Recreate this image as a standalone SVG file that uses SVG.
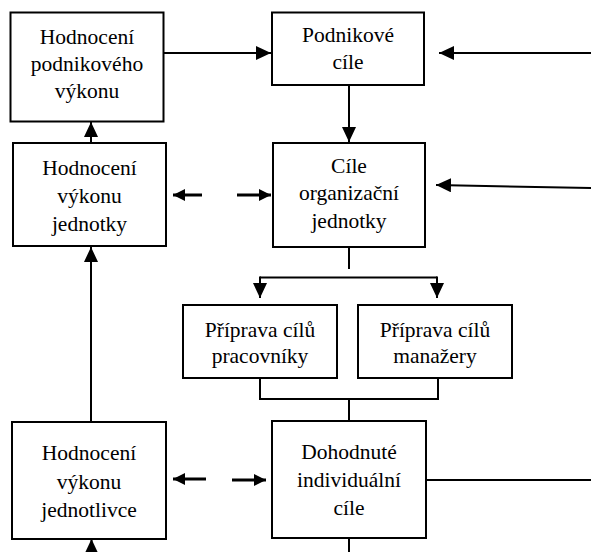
<svg xmlns="http://www.w3.org/2000/svg" width="591" height="552" viewBox="0 0 591 552">
  <defs>
    <style>
      .box { fill: #ffffff; stroke: #000000; stroke-width: 2; }
      .t { font-family: "Liberation Serif", "Times New Roman", serif; font-size: 21.5px; fill: #000000; text-anchor: middle; }
      .ln { fill: none; stroke: #000000; stroke-width: 2; }
      .sa { fill: none; stroke: #000000; stroke-width: 2; marker-end: url(#ah); }
      .da { fill: none; stroke: #000000; stroke-width: 3; marker-end: url(#ahs); }
    </style>
    <marker id="ah" markerUnits="userSpaceOnUse" markerWidth="15" markerHeight="14" refX="15" refY="7" orient="auto">
      <path d="M0,0 L15,7 L0,14 Z" fill="#000000"/>
    </marker>
    <marker id="ahs" markerUnits="userSpaceOnUse" markerWidth="12" markerHeight="12" refX="12" refY="6" orient="auto">
      <path d="M0,0 L12,6 L0,12 Z" fill="#000000"/>
    </marker>
  </defs>
  <rect width="591" height="552" fill="#ffffff"/>

  <g id="connectors">
    <line class="sa" x1="163" y1="53" x2="271" y2="53"/>
    <line class="sa" x1="591" y1="53" x2="439" y2="53"/>
    <line class="sa" x1="349" y1="85" x2="349" y2="142"/>
    <line class="sa" x1="591" y1="188" x2="436" y2="185"/>
    <line class="sa" x1="91" y1="143" x2="91" y2="122"/>
    <line class="sa" x1="91" y1="422" x2="91" y2="247"/>
    <line class="da" x1="202" y1="195" x2="173" y2="195"/>
    <line class="da" x1="237" y1="195" x2="271" y2="195"/>
    <line class="da" x1="206" y1="479" x2="173" y2="479"/>
    <line class="da" x1="232" y1="480" x2="266" y2="480"/>
    <line class="ln" x1="349" y1="247" x2="349" y2="269"/>
    <polyline class="ln" points="260,277.5 437,277.5"/>
    <line class="sa" x1="260" y1="276.5" x2="260" y2="298"/>
    <line class="sa" x1="437" y1="276.5" x2="437" y2="298"/>
    <polyline class="ln" points="260,378 260,399 438,399 438,378"/>
    <line class="ln" x1="349" y1="399" x2="349" y2="421"/>
    <line class="ln" x1="426" y1="480" x2="591" y2="480"/>
    <line class="ln" x1="349" y1="538" x2="349" y2="552"/>
    <line class="sa" x1="91.5" y1="552" x2="91.5" y2="539"/>
  </g>

  <g id="hodnoceni-podnikoveho">
    <rect class="box" x="10.5" y="12.5" width="153" height="109"/>
    <text class="t" x="87" y="44">Hodnocení</text>
    <text class="t" x="87" y="71">podnikového</text>
    <text class="t" x="87" y="98">výkonu</text>
  </g>
  <g id="hodnoceni-jednotky">
    <rect class="box" x="13" y="143" width="153" height="103"/>
    <text class="t" x="89.5" y="175">Hodnocení</text>
    <text class="t" x="89.5" y="203">výkonu</text>
    <text class="t" x="89.5" y="231">jednotky</text>
  </g>
  <g id="hodnoceni-jednotlivce">
    <rect class="box" x="12" y="422" width="154" height="117"/>
    <text class="t" x="89" y="460">Hodnocení</text>
    <text class="t" x="89" y="488.5">výkonu</text>
    <text class="t" x="89" y="517">jednotlivce</text>
  </g>
  <g id="podnikove-cile">
    <rect class="box" x="272" y="12.5" width="152" height="72.5"/>
    <text class="t" x="348" y="42">Podnikové</text>
    <text class="t" x="348" y="69">cíle</text>
  </g>
  <g id="cile-organizacni-jednotky">
    <rect class="box" x="273" y="143" width="152" height="104"/>
    <text class="t" x="349" y="173">Cíle</text>
    <text class="t" x="349" y="200">organizační</text>
    <text class="t" x="349" y="228">jednotky</text>
  </g>
  <g id="priprava-pracovniky">
    <rect class="box" x="183" y="305" width="154" height="73"/>
    <text class="t" x="260" y="337">Příprava cílů</text>
    <text class="t" x="260" y="363">pracovníky</text>
  </g>
  <g id="priprava-manazery">
    <rect class="box" x="358" y="305" width="154" height="73"/>
    <text class="t" x="435" y="337">Příprava cílů</text>
    <text class="t" x="435" y="363">manažery</text>
  </g>
  <g id="dohodnute-cile">
    <rect class="box" x="272" y="421" width="154" height="117"/>
    <text class="t" x="349" y="458.5">Dohodnuté</text>
    <text class="t" x="349" y="486.5">individuální</text>
    <text class="t" x="349" y="515">cíle</text>
  </g>
</svg>
